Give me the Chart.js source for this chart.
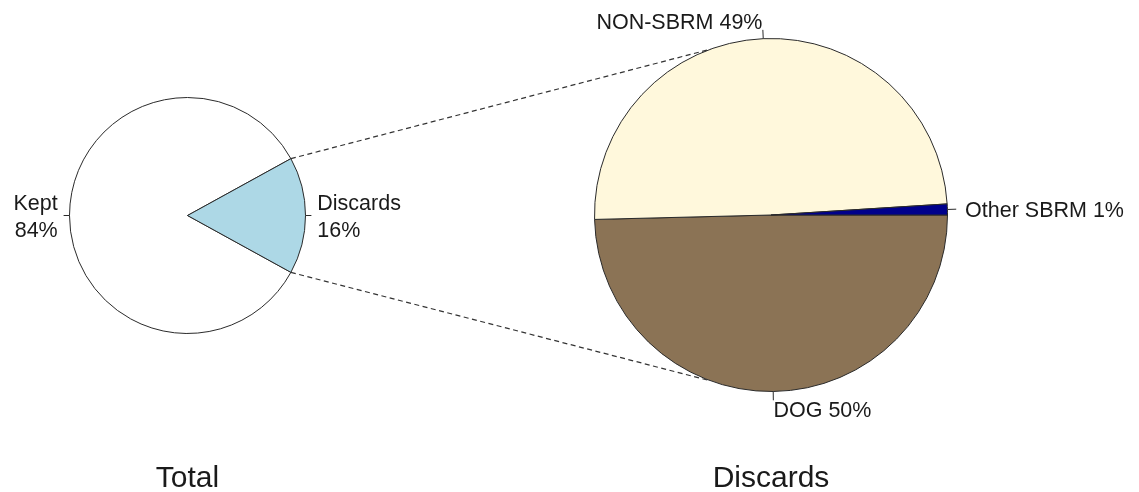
<!DOCTYPE html>
<html>
<head>
<meta charset="utf-8">
<script src="https://cdn.jsdelivr.net/npm/chart.js@4/dist/chart.umd.min.js"></script>
<style>
  html, body { margin: 0; padding: 0; background: #ffffff; }
  #wrap { position: relative; width: 1139px; height: 492px; background: #ffffff; }
  canvas { position: absolute; left: 0; top: 0; }
</style>
</head>
<body>
<div id="wrap">
  <canvas id="totalChart" width="1139" height="492"></canvas>
  <canvas id="discChart" width="1139" height="492"></canvas>
</div>
<script>
// ---- data ----
const totalCategories = ['Kept', 'Discards'];
const totalValues = [84, 16];
const totalColors = ['#ffffff', '#add8e6'];

const discCategories = ['DOG', 'NON-SBRM', 'Other SBRM'];
const discValues = [49.6, 49.4, 1.0];
const discColors = ['#8b7355', '#fff8dc', '#00008b'];

const titles = ['Total', 'Discards'];

// ---- styles ----
const LABEL_FONT = '21.5px "Liberation Sans", Arial, sans-serif';
const TITLE_FONT = '30px "Liberation Sans", Arial, sans-serif';
const TEXT_COLOR = '#1a1a1a';
const BORDER_COLOR = '#2a2a2a';

function pct(v, arr) {
  const s = arr.reduce((a, b) => a + b, 0);
  return Math.round(v / s * 100) + '%';
}

// R-style pie labels: tick from r to 1.05r, text at 1.1r
function makeLabelPlugin(id, labelFn, title) {
  return {
    id: id,
    afterDraw(chart) {
      const ctx = chart.ctx;
      const meta = chart.getDatasetMeta(0);
      ctx.save();
      ctx.font = LABEL_FONT;
      ctx.fillStyle = TEXT_COLOR;
      ctx.strokeStyle = BORDER_COLOR;
      ctx.lineWidth = 1;
      let cx = 0, cy = 0, r = 0;
      meta.data.forEach((el, i) => {
        cx = el.x; cy = el.y; r = el.outerRadius;
        const mid = (el.startAngle + el.endAngle) / 2;
        const c = Math.cos(mid), s = Math.sin(mid);
        ctx.beginPath();
        ctx.moveTo(cx + r * c, cy + r * s);
        ctx.lineTo(cx + 1.05 * r * c, cy + 1.05 * r * s);
        ctx.stroke();
        const lx = cx + 1.1 * r * c, ly = cy + 1.1 * r * s + 2;
        const lines = labelFn(i);
        const lh = 27;
        ctx.textAlign = c < 0 ? 'right' : 'left';
        ctx.textBaseline = 'middle';
        lines.forEach((t, k) => {
          ctx.fillText(t, lx, ly + (k - (lines.length - 1) / 2) * lh);
        });
      });
      ctx.font = TITLE_FONT;
      ctx.textAlign = 'center';
      ctx.textBaseline = 'alphabetic';
      ctx.fillText(title, cx, 487);
      ctx.restore();
    }
  };
}

const commonOpts = {
  responsive: false,
  animation: false,
  events: [],
  plugins: { legend: { display: false }, tooltip: { enabled: false }, title: { display: false } }
};

// Left pie: Discards slice centred on the 3 o'clock direction
const totalSum = totalValues.reduce((a, b) => a + b, 0);
const totalRotation = 90 + (totalValues[1] / totalSum) * 360 / 2;

const totalChart = new Chart(document.getElementById('totalChart'), {
  type: 'pie',
  data: {
    labels: totalCategories,
    datasets: [{
      data: totalValues,
      backgroundColor: totalColors,
      borderColor: BORDER_COLOR,
      borderWidth: 1
    }]
  },
  options: Object.assign({}, commonOpts, {
    rotation: totalRotation,
    layout: { padding: { left: 69, right: 833, top: 97, bottom: 158 } }
  }),
  plugins: [makeLabelPlugin('totalLabels', i => [totalCategories[i], pct(totalValues[i], totalValues)], titles[0])]
});

// connector dashed lines from the Discards slice edges to the right pie
const CONNECT_ANGLE = 110 * Math.PI / 180;
const connectorPlugin = {
  id: 'connectors',
  afterDraw(chart) {
    const leftArc = totalChart.getDatasetMeta(0).data[1];
    const rightArc = chart.getDatasetMeta(0).data[0];
    if (!leftArc || !rightArc) return;
    const ctx = chart.ctx;
    ctx.save();
    ctx.strokeStyle = '#333333';
    ctx.lineWidth = 1.2;
    ctx.setLineDash([5, 3.5]);
    const ends = [
      [leftArc.startAngle, -CONNECT_ANGLE],
      [leftArc.endAngle, CONNECT_ANGLE]
    ];
    ends.forEach(([a, b]) => {
      ctx.beginPath();
      ctx.moveTo(leftArc.x + leftArc.outerRadius * Math.cos(a), leftArc.y + leftArc.outerRadius * Math.sin(a));
      ctx.lineTo(rightArc.x + rightArc.outerRadius * Math.cos(b), rightArc.y + rightArc.outerRadius * Math.sin(b));
      ctx.stroke();
    });
    ctx.restore();
  }
};

const discChart = new Chart(document.getElementById('discChart'), {
  type: 'pie',
  data: {
    labels: discCategories,
    datasets: [{
      data: discValues,
      backgroundColor: discColors,
      borderColor: BORDER_COLOR,
      borderWidth: 1
    }]
  },
  options: Object.assign({}, commonOpts, {
    rotation: 90,
    layout: { padding: { left: 594, right: 191, top: 38, bottom: 100 } }
  }),
  plugins: [connectorPlugin, makeLabelPlugin('discLabels', i => [discCategories[i] + ' ' + pct(discValues[i], discValues)], titles[1])]
});
</script>
</body>
</html>
